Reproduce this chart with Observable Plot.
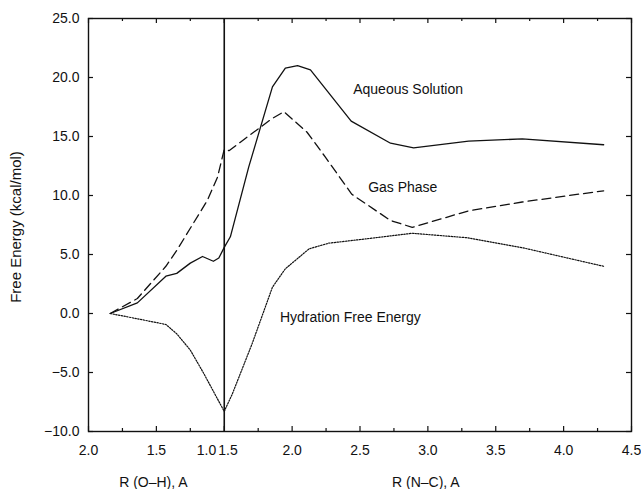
<!DOCTYPE html>
<html><head><meta charset="utf-8">
<script src="https://cdn.jsdelivr.net/npm/d3@7"></script>
<script src="https://cdn.jsdelivr.net/npm/@observablehq/plot@0.6"></script>
<style>body{margin:0;background:#fff} svg{display:block}</style>
</head><body><div id="chart"></div>
<script>
// ---- data (R in Å, free energy in kcal/mol) ----
// Left segment: R(O–H) decreasing 2.0 -> 1.0 ; right segment: R(N–C) increasing 1.5 -> 4.5
const aqueousOH_R = [1.84, 1.64, 1.43, 1.35, 1.25, 1.16, 1.08, 1.04, 1.00];
const aqueousOH_G = [0.0, 0.9, 3.16, 3.4, 4.27, 4.83, 4.43, 4.7, 5.6];
const aqueousNC_R = [1.50, 1.545, 1.68, 1.855, 1.95, 2.04, 2.135, 2.435, 2.725, 2.895, 3.30, 3.695, 4.295];
const aqueousNC_G = [5.6, 6.5, 12.4, 19.2, 20.8, 21.0, 20.65, 16.3, 14.43, 14.04, 14.6, 14.8, 14.3];

const gasOH_R = [1.84, 1.64, 1.43, 1.35, 1.125, 1.05, 1.00];
const gasOH_G = [0.0, 1.27, 4.0, 5.34, 9.58, 11.55, 13.9];
const gasNC_R = [1.50, 1.535, 1.85, 1.94, 2.11, 2.245, 2.44, 2.725, 2.885, 3.30, 3.695, 4.295];
const gasNC_G = [13.9, 13.8, 16.5, 17.1, 15.36, 13.25, 10.1, 7.88, 7.3, 8.7, 9.45, 10.4];

const hydOH_R = [1.84, 1.617, 1.43, 1.35, 1.25, 1.15, 1.00];
const hydOH_G = [0.0, -0.5, -0.93, -1.72, -3.1, -5.1, -8.3];
const hydNC_R = [1.50, 1.56, 1.705, 1.855, 1.95, 2.125, 2.27, 2.54, 2.885, 3.29, 3.695, 4.295];
const hydNC_G = [-8.3, -6.8, -2.57, 2.23, 3.79, 5.48, 5.96, 6.32, 6.8, 6.42, 5.58, 4.0];

const ohTickLabels = [2.0, 1.5];          // R(O–H) labels on left segment
const ohJoinLabel = 1.0;                  // R(O–H) at the joint
const ncJoinLabel = 1.5;                  // R(N–C) at the joint
const ncTickLabels = [2.0, 2.5, 3.0, 3.5, 4.0, 4.5];
const yTicks = [-10, -5, 0, 5, 10, 15, 20, 25];

const curveLabels = [
  {text: "Aqueous Solution", seg: "NC", r: 2.45, g: 19.0},
  {text: "Gas Phase", seg: "NC", r: 2.56, g: 10.7},
  {text: "Hydration Free Energy", seg: "NC", r: 1.91, g: -0.35}
];

// ---- map both segments onto one reaction-coordinate axis ----
const pos = (seg, r) => seg === "OH" ? (2.0 - r) * 2 : 2 + (r - 1.5) * 2;
function rows(ohR, ohG, ncR, ncG) {
  return ohR.map((r, i) => ({u: pos("OH", r), g: ohG[i]}))
    .concat(ncR.map((r, i) => ({u: pos("NC", r), g: ncG[i]})));
}
const aqueous = rows(aqueousOH_R, aqueousOH_G, aqueousNC_R, aqueousNC_G);
const gas = rows(gasOH_R, gasOH_G, gasNC_R, gasNC_G);
const hyd = rows(hydOH_R, hydOH_G, hydNC_R, hydNC_G);

const xMajor = ohTickLabels.map(r => pos("OH", r)).concat([pos("OH", ohJoinLabel)], ncTickLabels.map(r => pos("NC", r)));
const xMinor = d3.range(0.5, 8, 1);
const joint = pos("OH", ohJoinLabel);

const FONT = "'Liberation Sans', Arial, Helvetica, sans-serif";
const FS = 14;
const H = 489, MT = 18, MB = 58, FH = H - MT - MB;
const W = 641, ML = 88, MR = 10, FW = W - ML - MR;
const ink = "#111";

const plot = Plot.plot({
  width: W, height: H,
  marginLeft: ML, marginRight: MR, marginTop: MT, marginBottom: MB,
  x: {domain: [0, 8], axis: null},
  y: {domain: [-10, 25], axis: null},
  style: {background: "white"},
  marks: [
    // ticks (inward, all four sides)
    Plot.ruleX(xMajor, {x: d => d, insetTop: FH - 5, stroke: ink, strokeWidth: 1.2}),
    Plot.ruleX(xMinor, {x: d => d, insetTop: FH - 3, stroke: ink, strokeWidth: 1.2}),
    Plot.ruleX(xMajor, {x: d => d, insetBottom: FH - 5, stroke: ink, strokeWidth: 1.2}),
    Plot.ruleX(xMinor, {x: d => d, insetBottom: FH - 3, stroke: ink, strokeWidth: 1.2}),
    Plot.ruleY(yTicks, {y: d => d, insetRight: FW - 5, stroke: ink, strokeWidth: 1.2}),
    Plot.ruleY(yTicks, {y: d => d, insetLeft: FW - 5, stroke: ink, strokeWidth: 1.2}),
    Plot.frame({stroke: ink, strokeWidth: 1.4}),
    Plot.ruleX([joint], {stroke: ink, strokeWidth: 1.6}),
    // curves
    Plot.line(aqueous, {x: "u", y: "g", stroke: ink, strokeWidth: 1.3}),
    Plot.line(gas, {x: "u", y: "g", stroke: ink, strokeWidth: 1.3, strokeDasharray: "9,5"}),
    Plot.line(hyd, {x: "u", y: "g", stroke: ink, strokeWidth: 1.2, strokeDasharray: "1.4,1.4"}),
    // curve labels
    Plot.text(curveLabels, {x: d => pos(d.seg, d.r), y: "g", text: "text", textAnchor: "start",
      fontSize: FS, fontFamily: FONT, fill: ink}),
    // y tick labels
    Plot.text(yTicks, {y: d => d, frameAnchor: "left", dx: -9, textAnchor: "end",
      text: d => d3.format(".1f")(d), fontSize: FS, fontFamily: FONT, fill: ink}),
    // x tick labels
    Plot.text(ohTickLabels, {x: d => pos("OH", d), frameAnchor: "bottom", dy: 23,
      text: d => d.toFixed(1), fontSize: FS, fontFamily: FONT, fill: ink}),
    Plot.text(ncTickLabels, {x: d => pos("NC", d), frameAnchor: "bottom", dy: 23,
      text: d => d.toFixed(1), fontSize: FS, fontFamily: FONT, fill: ink}),
    Plot.text([ohJoinLabel], {x: joint, frameAnchor: "bottom", dy: 23, dx: -8, textAnchor: "end",
      text: d => d.toFixed(1), fontSize: FS, fontFamily: FONT, fill: ink}),
    Plot.text([ncJoinLabel], {x: joint, frameAnchor: "bottom", dy: 23, dx: -6, textAnchor: "start",
      text: d => d.toFixed(1), fontSize: FS, fontFamily: FONT, fill: ink}),
    // axis titles
    Plot.text(["R (O\u2013H), A"], {x: (pos("OH", 2.0) + pos("OH", 1.0)) / 2, frameAnchor: "bottom", dy: 55,
      fontSize: FS, fontFamily: FONT, fill: ink, dx: -3}),
    Plot.text(["R (N\u2013C), A"], {x: (pos("NC", 1.5) + pos("NC", 4.5)) / 2, frameAnchor: "bottom", dy: 55,
      fontSize: FS, fontFamily: FONT, fill: ink, dx: -2}),
    Plot.text(["Free Energy (kcal/mol)"], {frameAnchor: "left", rotate: -90, dx: -72, dy: 2,
      textAnchor: "middle", fontSize: 15, fontFamily: FONT, fill: ink})
  ]
});
document.getElementById("chart").appendChild(plot);
</script>
</body></html>
